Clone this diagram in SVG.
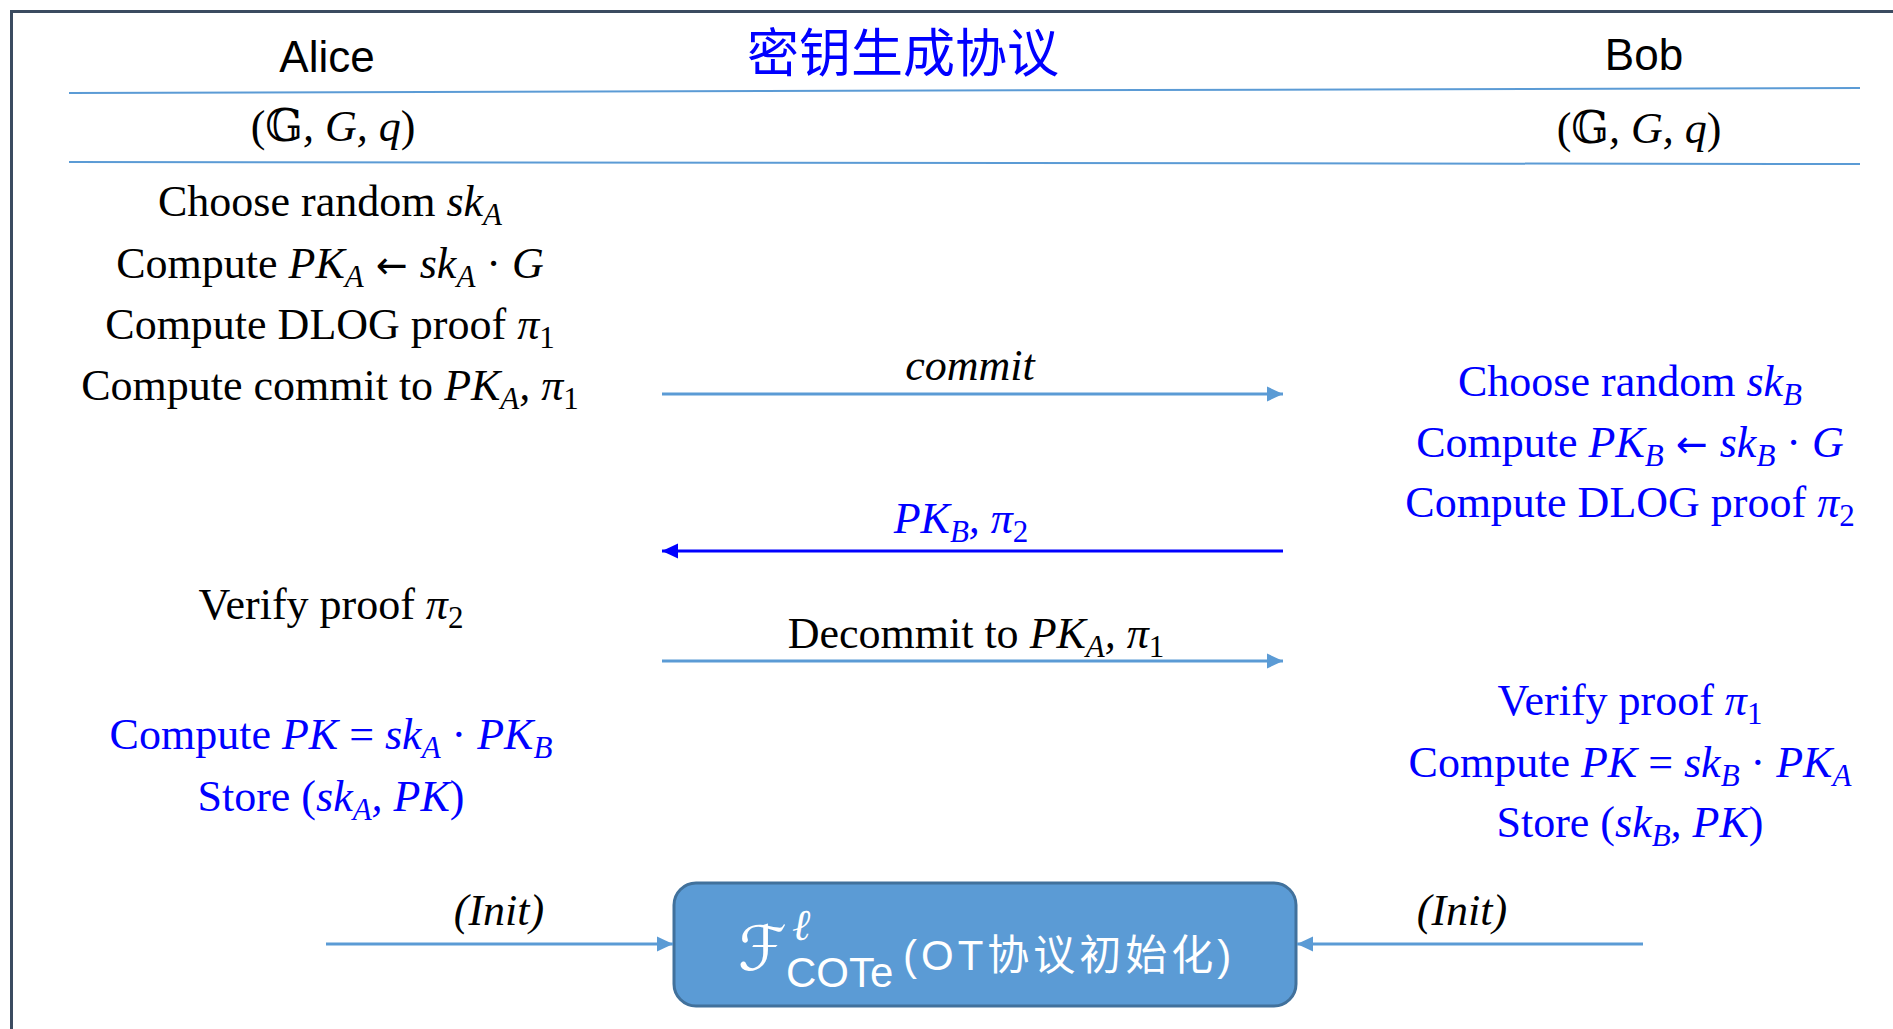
<svg xmlns="http://www.w3.org/2000/svg" width="1893" height="1029" viewBox="0 0 1893 1029">
<defs>
<style>
.t{font-family:"Liberation Serif","Times New Roman",serif;font-size:44px;fill:#000;text-anchor:middle}
.bl{fill:#0000ff}
.m{font-style:italic}
.s{font-size:31px}
.ar{font-family:"DejaVu Sans",sans-serif;font-size:38px;font-style:normal}
.hdr{font-family:"Liberation Sans",Arial,sans-serif;font-size:44px;fill:#000;text-anchor:middle}
.sep{stroke:#5b9bd5;stroke-width:2;fill:none}
.lb{stroke:#5b9bd5;stroke-width:3;fill:none}
.db{stroke:#0000ff;stroke-width:3;fill:none}
</style>
<marker id="ahL" markerUnits="userSpaceOnUse" markerWidth="16" markerHeight="16" refX="16" refY="8" orient="auto">
<path d="M0,0.5 L16,8 L0,15.5 z" fill="#5b9bd5"/>
</marker>
<marker id="ahB" markerUnits="userSpaceOnUse" markerWidth="16" markerHeight="16" refX="16" refY="8" orient="auto">
<path d="M0,0.5 L16,8 L0,15.5 z" fill="#0000ff"/>
</marker>
</defs>
<rect width="1893" height="1029" fill="#ffffff"/>
<path d="M11.5,1029 L11.5,11.5 L1893,11.5" stroke="#3b4b60" stroke-width="3" fill="none"/>

<g id="header">
<text class="hdr" x="327" y="72">Alice</text>
<text x="903" y="72" font-family="'Noto Sans CJK SC',sans-serif" font-size="52" fill="#0000ff" text-anchor="middle">密钥生成协议</text>
<text class="hdr" x="1644" y="70">Bob</text>
<line class="sep" x1="69" y1="93" x2="1860" y2="88"/>
<text class="t" x="333" y="141">(<tspan font-family="'DejaVu Serif','DejaVu Sans',serif">𝔾</tspan><tspan class="m">, G, q</tspan>)</text>
<text class="t" x="1639" y="143">(<tspan font-family="'DejaVu Serif','DejaVu Sans',serif">𝔾</tspan><tspan class="m">, G, q</tspan>)</text>
<line class="sep" x1="69" y1="162" x2="1860" y2="164"/>
</g>

<g id="alice-steps">
<text class="t" x="330" y="216">Choose random <tspan class="m">sk</tspan><tspan class="m s" dy="9">A</tspan></text>
<text class="t" x="330" y="278">Compute <tspan class="m">PK</tspan><tspan class="m s" dy="9">A</tspan><tspan class="ar" dy="-9"> ← </tspan><tspan class="m">sk</tspan><tspan class="m s" dy="9">A</tspan><tspan dy="-9"> · </tspan><tspan class="m">G</tspan></text>
<text class="t" x="330" y="339">Compute DLOG proof <tspan class="m">π</tspan><tspan class="s" dy="9">1</tspan></text>
<text class="t" x="330" y="400">Compute commit to <tspan class="m">PK</tspan><tspan class="m s" dy="9">A</tspan><tspan class="m" dy="-9">, π</tspan><tspan class="s" dy="9">1</tspan></text>
</g>

<g id="bob-steps">
<text class="t bl" x="1630" y="396">Choose random <tspan class="m">sk</tspan><tspan class="m s" dy="9">B</tspan></text>
<text class="t bl" x="1630" y="457">Compute <tspan class="m">PK</tspan><tspan class="m s" dy="9">B</tspan><tspan class="ar" dy="-9"> ← </tspan><tspan class="m">sk</tspan><tspan class="m s" dy="9">B</tspan><tspan dy="-9"> · </tspan><tspan class="m">G</tspan></text>
<text class="t bl" x="1630" y="517">Compute DLOG proof <tspan class="m">π</tspan><tspan class="s" dy="9">2</tspan></text>
</g>

<g id="alice-verify">
<text class="t" x="331" y="619">Verify proof <tspan class="m">π</tspan><tspan class="s" dy="9">2</tspan></text>
<text class="t bl" x="331" y="749">Compute <tspan class="m">PK</tspan> = <tspan class="m">sk</tspan><tspan class="m s" dy="9">A</tspan><tspan dy="-9"> · </tspan><tspan class="m">PK</tspan><tspan class="m s" dy="9">B</tspan></text>
<text class="t bl" x="331" y="811">Store (<tspan class="m">sk</tspan><tspan class="m s" dy="9">A</tspan><tspan class="m" dy="-9">, PK</tspan>)</text>
</g>

<g id="bob-verify">
<text class="t bl" x="1630" y="715">Verify proof <tspan class="m">π</tspan><tspan class="s" dy="9">1</tspan></text>
<text class="t bl" x="1630" y="777">Compute <tspan class="m">PK</tspan> = <tspan class="m">sk</tspan><tspan class="m s" dy="9">B</tspan><tspan dy="-9"> · </tspan><tspan class="m">PK</tspan><tspan class="m s" dy="9">A</tspan></text>
<text class="t bl" x="1630" y="837">Store (<tspan class="m">sk</tspan><tspan class="m s" dy="9">B</tspan><tspan class="m" dy="-9">, PK</tspan>)</text>
</g>

<g id="cote-box">
<rect x="674" y="883" width="622" height="123" rx="22" ry="22" fill="#5b9bd5" stroke="#41719c" stroke-width="3"/>
<text x="738" y="970" font-family="'DejaVu Serif','DejaVu Sans',serif" font-size="62" font-style="italic" fill="#ffffff">ℱ</text>
<text x="792" y="940" font-family="'Liberation Serif',serif" font-size="44" font-style="italic" fill="#ffffff">ℓ</text>
<text x="786" y="987" font-family="'Liberation Sans',Arial,sans-serif" font-size="42" fill="#ffffff">COTe</text>
<text x="903" y="970" font-family="'Liberation Sans','Noto Sans CJK SC',sans-serif" font-size="42" letter-spacing="4" fill="#ffffff">(OT协议初始化)</text>
</g>

<g id="connectors">
<line class="lb" x1="662" y1="394" x2="1283" y2="394" marker-end="url(#ahL)"/>
<text class="t m" x="970" y="380">commit</text>
<line class="db" x1="1283" y1="551" x2="662" y2="551" marker-end="url(#ahB)"/>
<text class="t bl m" x="961" y="533">PK<tspan class="s" dy="9">B</tspan><tspan dy="-9">, π</tspan><tspan class="s" font-style="normal" dy="9">2</tspan></text>
<line class="lb" x1="662" y1="661" x2="1283" y2="661" marker-end="url(#ahL)"/>
<text class="t" x="976" y="648">Decommit to <tspan class="m">PK</tspan><tspan class="m s" dy="9">A</tspan><tspan class="m" dy="-9">, π</tspan><tspan class="s" dy="9">1</tspan></text>
<line class="lb" x1="326" y1="944" x2="673" y2="944" marker-end="url(#ahL)"/>
<text class="t m" x="499" y="925">(Init)</text>
<line class="lb" x1="1643" y1="944" x2="1297" y2="944" marker-end="url(#ahL)"/>
<text class="t m" x="1462" y="925">(Init)</text>
</g>
</svg>
